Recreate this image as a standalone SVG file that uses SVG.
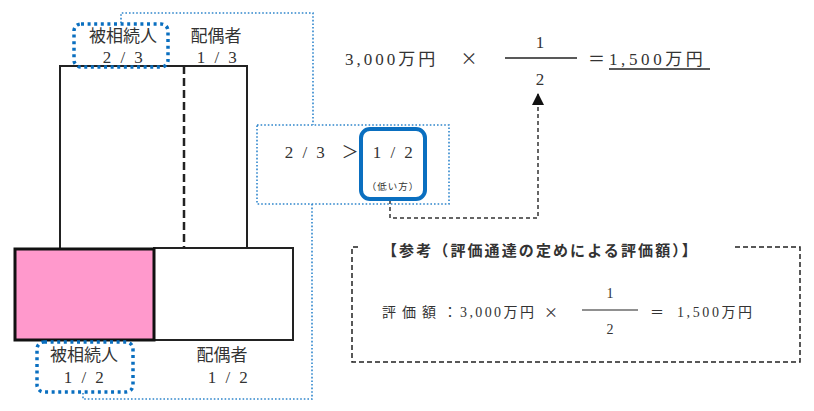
<svg xmlns="http://www.w3.org/2000/svg" width="814" height="411" viewBox="0 0 814 411">
<defs>
<style>
text{font-family:"Liberation Serif","Noto Sans CJK JP",serif;fill:#333;}
.lbl{font-size:17px;text-anchor:middle;}
.num{font-size:17px;text-anchor:middle;letter-spacing:2.5px;}
.frm{font-size:17px;}
.ref{font-size:14px;}
.x{font-family:"Noto Sans CJK JP","Liberation Sans",sans-serif;text-anchor:middle;}
.blueDot{fill:none;stroke:#2f86cc;stroke-width:1.6;stroke-dasharray:1.6 2;}
.thickDot{fill:none;stroke:#0a6fc0;stroke-width:3.5;stroke-dasharray:3 3.6;}
.blk{fill:none;stroke:#222;stroke-width:2;}
.dash{fill:none;stroke:#333;stroke-width:1.5;stroke-dasharray:4 3;}
</style>
<marker id="arr" viewBox="0 0 12 12" refX="11" refY="6" markerWidth="12" markerHeight="12" markerUnits="userSpaceOnUse" orient="auto">
<path d="M0,0 L12,6 L0,12 Z" fill="#111"/>
</marker>
</defs>

<g id="connectors">
<path class="blueDot" d="M121,23 V13 H313 V125"/>
<path class="blueDot" d="M312,204 V399 H83 V392"/>
<path class="dash" d="M390,200 V218 H538 V94" marker-end="url(#arr)"/>
</g>

<g id="upper-bar">
<path class="blk" d="M60,248 V66 H247 V248"/>
<path d="M184,66 V248" fill="none" stroke="#222" stroke-width="2.5" stroke-dasharray="8 4"/>
</g>

<g id="lower-bar">
<rect x="154" y="248" width="139" height="92" fill="#fff" stroke="#222" stroke-width="2"/>
<rect x="15" y="249" width="139" height="91" fill="#ff99cc" stroke="#111" stroke-width="3"/>
</g>

<g id="top-heir-label">
<rect class="thickDot" x="74" y="24" width="94" height="43" rx="7"/>
<text class="lbl" x="123" y="42">被相続人</text>
<text class="num" x="124" y="63">2 / 3</text>
</g>

<g id="top-spouse-label">
<text class="lbl" x="216" y="42">配偶者</text>
<text class="num" x="218" y="63">1 / 3</text>
</g>

<g id="bottom-heir-label">
<rect class="thickDot" x="37" y="342" width="96" height="50" rx="7"/>
<text class="lbl" x="84" y="361">被相続人</text>
<text class="num" x="85" y="383">1 / 2</text>
</g>

<g id="bottom-spouse-label">
<text class="lbl" x="222" y="361">配偶者</text>
<text class="num" x="229" y="383">1 / 2</text>
</g>

<g id="compare-box">
<rect class="blueDot" x="257" y="125" width="192" height="79"/>
<text class="num" x="306" y="158">2 / 3</text>
<text class="lbl" x="350" y="158">＞</text>
<rect x="361" y="129" width="64" height="70" rx="9" fill="none" stroke="#0a6fc0" stroke-width="4"/>
<text class="num" x="394" y="158">1 / 2</text>
<text x="393" y="190" font-size="9.5" text-anchor="middle" letter-spacing="1">（低い方）</text>
</g>

<g id="main-formula">
<text class="frm" x="345" y="65" letter-spacing="3">3,000万円</text>
<text class="frm x" x="469" y="65">×</text>
<line x1="505" y1="58" x2="577" y2="58" stroke="#222" stroke-width="1.3"/>
<text class="frm" x="540" y="48" text-anchor="middle">1</text>
<text class="frm" x="540" y="85" text-anchor="middle">2</text>
<text class="frm" x="588" y="65">＝</text>
<text class="frm" x="609" y="65" letter-spacing="3.6">1,500万円</text>
<line x1="609" y1="69" x2="710" y2="69" stroke="#222" stroke-width="1.3"/>
</g>

<g id="reference-box">
<path d="M358,247 H352 V362 H800 V247 H735" fill="none" stroke="#222" stroke-width="1.5" stroke-dasharray="5 3"/>
<text x="382" y="256" font-size="15" font-weight="bold" letter-spacing="2.1">【参考（評価通達の定めによる評価額）】</text>
<text class="ref" x="382" y="317" letter-spacing="6">評価額</text>
<text class="ref" x="443" y="317">：</text>
<text class="ref" x="460" y="317" letter-spacing="2.4">3,000万円</text>
<text class="ref x" x="551" y="317">×</text>
<line x1="582" y1="310" x2="638" y2="310" stroke="#222" stroke-width="1.2"/>
<text class="ref" x="610" y="298" text-anchor="middle">1</text>
<text class="ref" x="610" y="334" text-anchor="middle">2</text>
<text class="ref" x="650" y="317">＝</text>
<text class="ref" x="677" y="317" letter-spacing="2.6">1,500万円</text>
</g>
</svg>
